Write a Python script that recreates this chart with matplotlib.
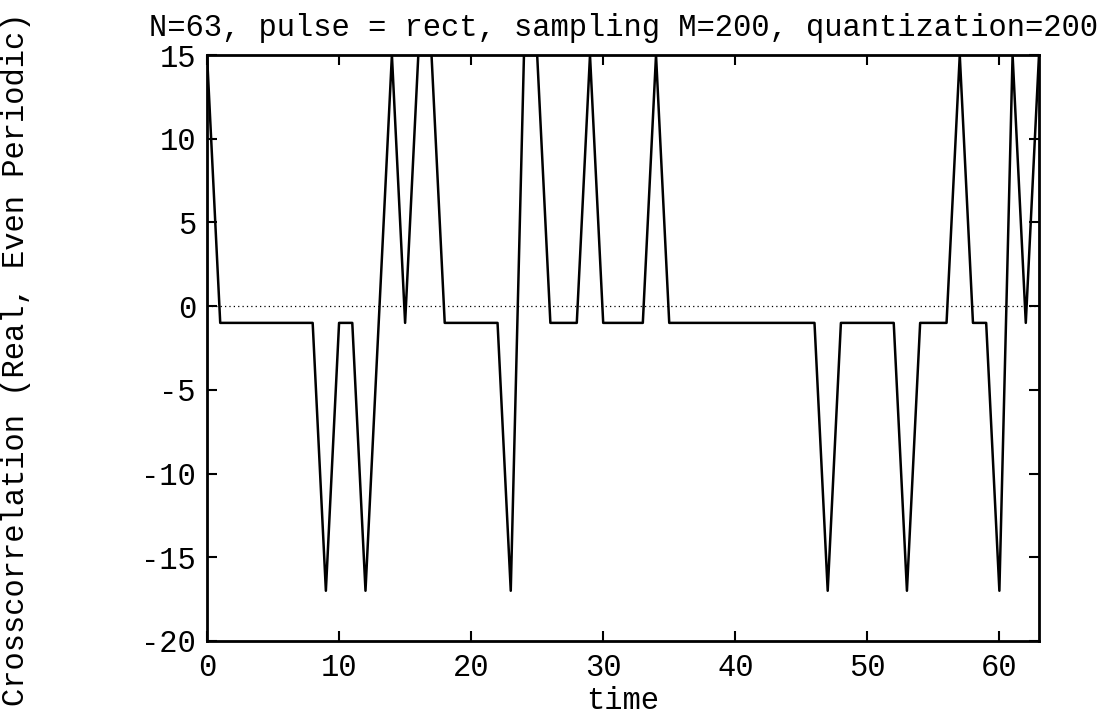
import numpy as np
import matplotlib
matplotlib.use("Agg")
import matplotlib.pyplot as plt

# crosscorrelation values, t = 0..63
time = np.arange(64)
xcorr = np.array([15, -1, -1, -1, -1, -1, -1, -1, -1, -17,
                  -1, -1, -17, -1, 15, -1, 15, 15, -1, -1,
                  -1, -1, -1, -17, 15, 15, -1, -1, -1, 15,
                  -1, -1, -1, -1, 15, -1, -1, -1, -1, -1,
                  -1, -1, -1, -1, -1, -1, -1, -17, -1, -1,
                  -1, -1, -1, -17, -1, -1, -1, 15, -1, -1,
                  -17, 15, -1, 15])
xticks = [0, 10, 20, 30, 40, 50, 60]
yticks = [-20, -15, -10, -5, 0, 5, 10, 15]

plt.rcParams['font.family'] = ['Liberation Mono', 'DejaVu Sans Mono']
plt.rcParams['axes.unicode_minus'] = False
fs = 22

fig = plt.figure(figsize=(11.16, 7.19), dpi=100)
ax = fig.add_axes([0.1855, 0.1085, 0.7455, 0.815])

ax.axhline(0, color='black', lw=0.9, ls=(0, (1, 2.5)))
ax.plot(time, xcorr, color='black', lw=1.8)

ax.set_xlim(0, 63)
ax.set_ylim(-20, 15)
ax.set_xticks(xticks)
ax.set_yticks(yticks)
ax.tick_params(direction='in', length=7, width=1.5, top=True, right=True,
               labelsize=fs)
ax.tick_params(axis='y', pad=8)
ax.tick_params(axis='x', pad=9)
for s in ax.spines.values():
    s.set_linewidth(2)

ax.set_title("N=63, pulse = rect, sampling M=200, quantization=200",
             fontsize=fs, pad=14)
ax.set_xlabel("time", fontsize=fs, labelpad=2)
fig.text(0.014, 0.5, "Crosscorrelation (Real, Even Periodic)", fontsize=fs,
         rotation=90, va='center', ha='center')

fig.savefig("out.png", dpi=100)
